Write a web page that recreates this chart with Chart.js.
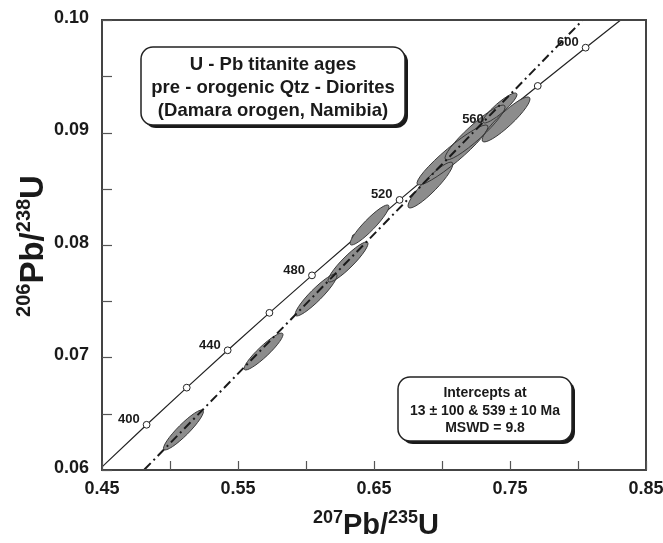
<!DOCTYPE html>
<html>
<head>
<meta charset="utf-8">
<script src="https://cdn.jsdelivr.net/npm/chart.js@4.4.1/dist/chart.umd.min.js"></script>
<style>
  html, body { margin: 0; padding: 0; background: #ffffff; }
  #wrap { width: 663px; height: 543px; }
</style>
</head>
<body>
<div id="wrap"><canvas id="c" width="663" height="543"></canvas></div>
<script>
// Concordia: ages (Ma) with their 207Pb/235U and 206Pb/238U ratios
const concordiaAge = [360, 380, 400, 420, 440, 460, 480, 500, 520, 540, 560, 580, 600, 620];
const concordia207 = [0.4255, 0.4539, 0.4828, 0.5123, 0.5424, 0.5731, 0.6044, 0.6363, 0.6688, 0.7020, 0.7359, 0.7704, 0.8056, 0.8415];
const concordia206 = [0.05743, 0.06072, 0.06402, 0.06732, 0.07064, 0.07397, 0.07730, 0.08065, 0.08401, 0.08738, 0.09076, 0.09414, 0.09754, 0.10095];

// Ages marked with open circles, and the ones carrying a label
const markedAges = [400, 420, 440, 460, 480, 500, 520, 540, 560, 580, 600];
const labelledAges = [400, 440, 480, 520, 560, 600];

// Discordia through the lower (13 Ma) and upper (539 Ma) intercepts, extended past the frame
const discordia207 = [0.0130, 0.7003, 0.8600];
const discordia206 = [0.0020, 0.0872, 0.1070];

// Titanite analyses: centres, 2-sigma errors and error correlation
const ellX   = [0.5099, 0.5688, 0.6074, 0.6309, 0.6467, 0.6915, 0.7077, 0.7243, 0.7471, 0.7426];
const ellY   = [0.06356, 0.07053, 0.07556, 0.07849, 0.08178, 0.08533, 0.08800, 0.09000, 0.09116, 0.09218];
const ellSx  = [0.0147, 0.0143, 0.0154, 0.0147, 0.0143, 0.0165, 0.0261, 0.0221, 0.0176, 0.0125];
const ellSy  = [0.00178, 0.00164, 0.00187, 0.00178, 0.00178, 0.00204, 0.00267, 0.00244, 0.00200, 0.00133];
const ellRho = [0.92, 0.92, 0.92, 0.92, 0.92, 0.91, 0.94, 0.93, 0.91, 0.90];

// Axis ticks and labels
const xTicks = [0.45, 0.50, 0.55, 0.60, 0.65, 0.70, 0.75, 0.80, 0.85];
const xTickLabels = ['0.45', '', '0.55', '', '0.65', '', '0.75', '', '0.85'];
const yTicks = [0.060, 0.065, 0.070, 0.075, 0.080, 0.085, 0.090, 0.095, 0.100];
const yTickLabels = ['0.06', '', '0.07', '', '0.08', '', '0.09', '', '0.10'];

// Text boxes
const titleLines = ['U - Pb titanite ages', 'pre - orogenic Qtz - Diorites', '(Damara orogen, Namibia)'];
const interceptLines = ['Intercepts at', '13 \u00B1 100 & 539 \u00B1 10 Ma', 'MSWD = 9.8'];

const FONT = '"Liberation Sans", Arial, Helvetica, sans-serif';

const concordiaPoints = concordiaAge.map((a, i) => ({ x: concordia207[i], y: concordia206[i] }));
const markerPoints = markedAges.map(a => {
  const i = concordiaAge.indexOf(a);
  return { x: concordia207[i], y: concordia206[i] };
});
const discordiaPoints = discordia207.map((v, i) => ({ x: v, y: discordia206[i] }));

function roundRect(ctx, x, y, w, h, r) {
  ctx.beginPath();
  ctx.moveTo(x + r, y);
  ctx.lineTo(x + w - r, y);
  ctx.arcTo(x + w, y, x + w, y + r, r);
  ctx.lineTo(x + w, y + h - r);
  ctx.arcTo(x + w, y + h, x + w - r, y + h, r);
  ctx.lineTo(x + r, y + h);
  ctx.arcTo(x, y + h, x, y + h - r, r);
  ctx.lineTo(x, y + r);
  ctx.arcTo(x, y, x + r, y, r);
  ctx.closePath();
}

function drawBox(ctx, x, y, w, h, r, lines, font, lineGap, firstBaseline) {
  ctx.save();
  ctx.fillStyle = '#1a1a1a';
  roundRect(ctx, x + 3, y + 3, w, h, r);
  ctx.fill();
  ctx.fillStyle = '#ffffff';
  roundRect(ctx, x, y, w, h, r);
  ctx.fill();
  ctx.strokeStyle = '#222222';
  ctx.lineWidth = 1.5;
  ctx.stroke();
  ctx.fillStyle = '#1a1a1a';
  ctx.font = font;
  ctx.textAlign = 'center';
  ctx.textBaseline = 'alphabetic';
  lines.forEach((t, i) => ctx.fillText(t, x + w / 2, firstBaseline + i * lineGap));
  ctx.restore();
}

// Text made of normal and superscript runs, centred on (cx, baseline)
function drawSupText(ctx, parts, cx, baseline, bigFont, smallFont, rise) {
  let total = 0;
  parts.forEach(p => { ctx.font = p.sup ? smallFont : bigFont; total += ctx.measureText(p.t).width; });
  let x = cx - total / 2;
  ctx.textAlign = 'left';
  ctx.textBaseline = 'alphabetic';
  parts.forEach(p => {
    ctx.font = p.sup ? smallFont : bigFont;
    ctx.fillText(p.t, x, p.sup ? baseline - rise : baseline);
    x += ctx.measureText(p.t).width;
  });
}

const ellipsePlugin = {
  id: 'errorEllipses',
  beforeDatasetDraw(chart, args) {
    if (chart.data.datasets[args.index].label !== 'Discordia') return;
    const ctx = chart.ctx, xs = chart.scales.x, ys = chart.scales.y, area = chart.chartArea;
    const shapes = ellX.map((x, i) => {
      const cx = xs.getPixelForValue(x), cy = ys.getPixelForValue(ellY[i]);
      const sxp = Math.abs(xs.getPixelForValue(x + ellSx[i]) - cx);
      const syp = Math.abs(ys.getPixelForValue(ellY[i] + ellSy[i]) - cy);
      const a = sxp * sxp, d = syp * syp, c = -ellRho[i] * sxp * syp;
      const half = Math.sqrt(((a - d) / 2) ** 2 + c * c);
      const l1 = (a + d) / 2 + half, l2 = Math.max((a + d) / 2 - half, 0.5);
      const th = 0.5 * Math.atan2(2 * c, a - d);
      return { cx, cy, r1: Math.sqrt(l1), r2: Math.sqrt(l2), th };
    });
    ctx.save();
    ctx.beginPath();
    ctx.rect(area.left, area.top, area.right - area.left, area.bottom - area.top);
    ctx.clip();
    shapes.forEach(s => {
      ctx.beginPath();
      ctx.ellipse(s.cx, s.cy, s.r1, s.r2, s.th, 0, Math.PI * 2);
      ctx.fillStyle = '#8c8c8c';
      ctx.fill();
    });
    ctx.strokeStyle = '#3a3a3a';
    ctx.lineWidth = 1;
    shapes.forEach(s => {
      ctx.beginPath();
      ctx.ellipse(s.cx, s.cy, s.r1, s.r2, s.th, 0, Math.PI * 2);
      ctx.stroke();
    });
    ctx.restore();
  }
};

const framePlugin = {
  id: 'frameAndText',
  afterDraw(chart) {
    const ctx = chart.ctx, xs = chart.scales.x, ys = chart.scales.y, a = chart.chartArea;
    ctx.save();
    // frame
    ctx.strokeStyle = '#444444';
    ctx.lineWidth = 2;
    ctx.strokeRect(a.left, a.top, a.right - a.left, a.bottom - a.top);
    // inward ticks
    ctx.lineWidth = 1.2;
    ctx.strokeStyle = '#555555';
    xTicks.forEach(v => {
      const px = Math.round(xs.getPixelForValue(v)) + 0.5;
      ctx.beginPath(); ctx.moveTo(px, a.bottom); ctx.lineTo(px, a.bottom - 9); ctx.stroke();
    });
    yTicks.forEach(v => {
      const py = Math.round(ys.getPixelForValue(v)) + 0.5;
      ctx.beginPath(); ctx.moveTo(a.left, py); ctx.lineTo(a.left + 10, py); ctx.stroke();
    });
    // tick labels
    ctx.fillStyle = '#1a1a1a';
    ctx.font = 'bold 18px ' + FONT;
    ctx.textAlign = 'center';
    ctx.textBaseline = 'middle';
    xTicks.forEach((v, i) => {
      if (xTickLabels[i]) ctx.fillText(xTickLabels[i], xs.getPixelForValue(v), a.bottom + 19);
    });
    ctx.textAlign = 'right';
    yTicks.forEach((v, i) => {
      if (yTickLabels[i]) ctx.fillText(yTickLabels[i], a.left - 13, ys.getPixelForValue(v) - 2);
    });
    // age labels on the concordia
    ctx.font = 'bold 13px ' + FONT;
    ctx.textAlign = 'right';
    ctx.textBaseline = 'middle';
    labelledAges.forEach(age => {
      const i = concordiaAge.indexOf(age);
      const px = xs.getPixelForValue(concordia207[i]), py = ys.getPixelForValue(concordia206[i]);
      ctx.fillText(String(age), px - 7, py - 5);
    });
    // axis titles
    ctx.fillStyle = '#1a1a1a';
    drawSupText(ctx, [{ t: '207', sup: true }, { t: 'Pb/', sup: false }, { t: '235', sup: true }, { t: 'U', sup: false }],
      376, 534, 'bold 29px ' + FONT, 'bold 18px ' + FONT, 11);
    ctx.save();
    ctx.translate(43, 246);
    ctx.rotate(-Math.PI / 2);
    drawSupText(ctx, [{ t: '206', sup: true }, { t: 'Pb/', sup: false }, { t: '238', sup: true }, { t: 'U', sup: false }],
      0, 0, 'bold 33px ' + FONT, 'bold 20px ' + FONT, 13);
    ctx.restore();
    // boxes
    drawBox(ctx, 141, 47, 264, 78, 12, titleLines, 'bold 18.5px ' + FONT, 23, 70);
    drawBox(ctx, 398, 377, 174, 64, 12, interceptLines, 'bold 14px ' + FONT, 17.5, 397);
    ctx.restore();
  }
};

new Chart(document.getElementById('c'), {
  type: 'scatter',
  data: {
    datasets: [
      {
        label: 'Discordia',
        type: 'line',
        data: discordiaPoints,
        borderColor: '#1a1a1a',
        borderWidth: 2,
        borderDash: [9, 4, 2, 4],
        pointRadius: 0,
        fill: false,
        tension: 0,
        order: 1
      },
      {
        label: 'Concordia ages',
        data: markerPoints,
        pointRadius: 3.4,
        pointBackgroundColor: '#ffffff',
        pointBorderColor: '#222222',
        pointBorderWidth: 1,
        showLine: false,
        order: 2
      },
      {
        label: 'Concordia',
        type: 'line',
        data: concordiaPoints,
        borderColor: '#222222',
        borderWidth: 1.2,
        pointRadius: 0,
        fill: false,
        cubicInterpolationMode: 'monotone',
        order: 3
      }
    ]
  },
  options: {
    responsive: false,
    devicePixelRatio: 1,
    animation: false,
    layout: { padding: { left: 102, right: 17, top: 20, bottom: 73 } },
    plugins: { legend: { display: false }, tooltip: { enabled: false } },
    scales: {
      x: { type: 'linear', min: 0.45, max: 0.85, display: false },
      y: { type: 'linear', min: 0.06, max: 0.10, display: false }
    }
  },
  plugins: [ellipsePlugin, framePlugin]
});
</script>
</body>
</html>
